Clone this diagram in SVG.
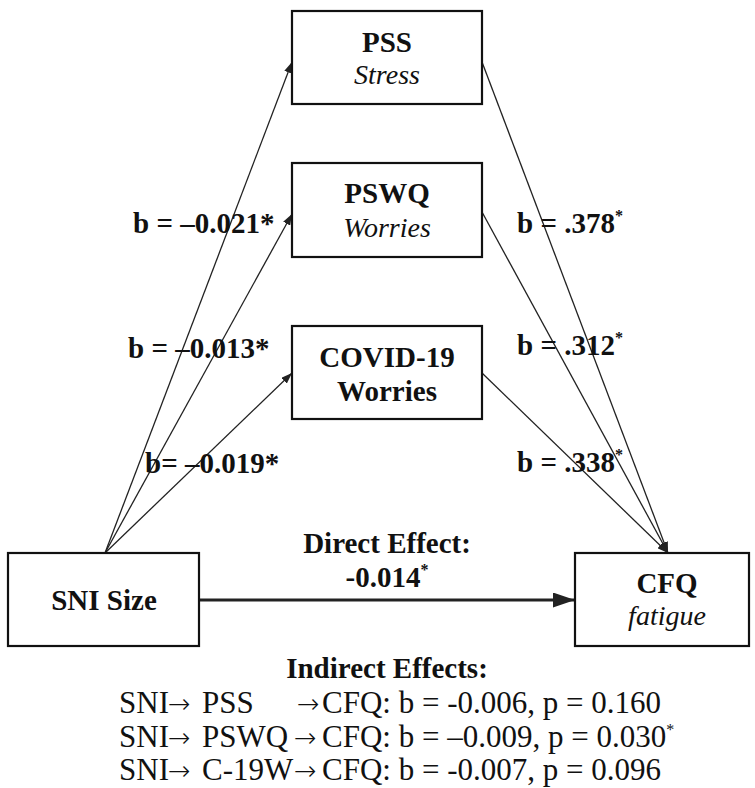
<svg xmlns="http://www.w3.org/2000/svg" width="755" height="788" viewBox="0 0 755 788">
<style>
  text { font-family: "Liberation Serif", "Times New Roman", serif; fill: #111; }
  .b { font-weight: bold; font-size: 29px; }
  .bc { font-weight: bold; font-size: 29px; text-anchor: middle; }
  .ic { font-style: italic; font-size: 28px; text-anchor: middle; }
  .r { font-size: 31px; }
  .arr { font-family: "DejaVu Sans", sans-serif; font-weight: 200; font-size: 27px; }
  .box { fill: #fff; stroke: #111; stroke-width: 2.2; }
  .thin { fill: none; stroke: #222; stroke-width: 1.3; marker-end: url(#ah); }
  .thick { fill: none; stroke: #222; stroke-width: 3; marker-end: url(#ahb); }
</style>
<defs>
  <marker id="ah" markerUnits="userSpaceOnUse" markerWidth="11" markerHeight="8" refX="11" refY="4" orient="auto">
    <path d="M0,0 L11,4 L0,8 z" fill="#222"/>
  </marker>
  <marker id="ahb" markerUnits="userSpaceOnUse" markerWidth="22" markerHeight="15" refX="22" refY="7.5" orient="auto">
    <path d="M0,0 L22,7.5 L0,15 z" fill="#222"/>
  </marker>
</defs>
<rect width="755" height="788" fill="#fff"/>

<g id="connectors">
  <line class="thin" x1="105" y1="553" x2="292" y2="62"/>
  <line class="thin" x1="105" y1="553" x2="292" y2="214"/>
  <line class="thin" x1="105" y1="553" x2="292" y2="373"/>
  <line class="thin" x1="482" y1="62" x2="668" y2="553"/>
  <line class="thin" x1="482" y1="212" x2="668" y2="553"/>
  <line class="thin" x1="482" y1="373" x2="668" y2="553"/>
  <line class="thick" x1="199" y1="600" x2="575" y2="600"/>
</g>

<g id="node-pss">
  <rect class="box" x="292" y="11" width="190" height="93"/>
  <text class="bc" x="387" y="52">PSS</text>
  <text class="ic" x="387" y="84">Stress</text>
</g>
<g id="node-pswq">
  <rect class="box" x="292" y="163" width="190" height="94"/>
  <text class="bc" x="387" y="203">PSWQ</text>
  <text class="ic" x="387" y="237">Worries</text>
</g>
<g id="node-covid">
  <rect class="box" x="292" y="326" width="190" height="93"/>
  <text class="bc" x="387" y="367">COVID-19</text>
  <text class="bc" x="387" y="401">Worries</text>
</g>
<g id="node-sni">
  <rect class="box" x="8" y="553" width="191" height="93"/>
  <text class="bc" x="104" y="610">SNI Size</text>
</g>
<g id="node-cfq">
  <rect class="box" x="575" y="553" width="174" height="93"/>
  <text class="bc" x="667" y="593">CFQ</text>
  <text class="ic" x="667" y="625">fatigue</text>
</g>

<g id="labels">
  <text class="b" x="133" y="233">b = –0.021*</text>
  <text class="b" x="128" y="358">b = –0.013*</text>
  <text class="b" x="145" y="473">b= –0.019*</text>
  <text class="b" x="517" y="233">b = .378<tspan font-size="16" dy="-12">*</tspan></text>
  <text class="b" x="517" y="355">b = .312<tspan font-size="16" dy="-12">*</tspan></text>
  <text class="b" x="517" y="472">b = .338<tspan font-size="16" dy="-12">*</tspan></text>
  <text class="bc" x="387" y="553">Direct Effect:</text>
  <text class="bc" x="387" y="587">-0.014<tspan font-size="16" dy="-12">*</tspan></text>
</g>

<g id="indirect">
  <text class="bc" x="387" y="678">Indirect Effects:</text>
  <text class="r" y="713"><tspan x="119">SNI</tspan><tspan class="arr" x="168">→</tspan><tspan x="202">PSS</tspan><tspan class="arr" x="297">→</tspan><tspan x="322">CFQ: b = -0.006, p = 0.160</tspan></text>
  <text class="r" y="747"><tspan x="119">SNI</tspan><tspan class="arr" x="168">→</tspan><tspan x="202">PSWQ</tspan><tspan class="arr" x="294">→</tspan><tspan x="322">CFQ: b = –0.009, p = 0.030</tspan><tspan font-size="16" dy="-12">*</tspan></text>
  <text class="r" y="780"><tspan x="119">SNI</tspan><tspan class="arr" x="168">→</tspan><tspan x="202">C-19W</tspan><tspan class="arr" x="294">→</tspan><tspan x="322">CFQ: b = -0.007, p = 0.096</tspan></text>
</g>
</svg>
